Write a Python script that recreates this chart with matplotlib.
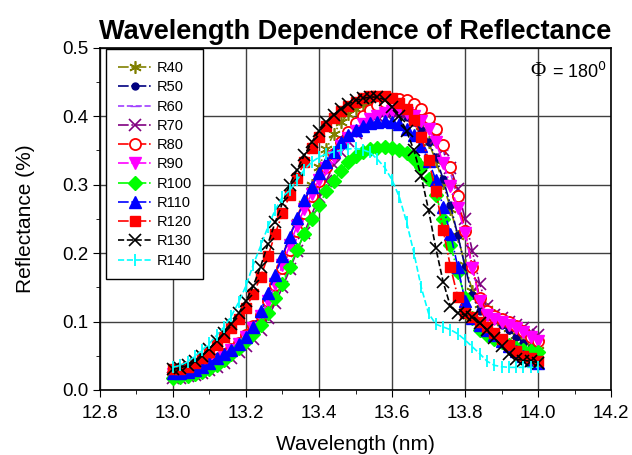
import numpy as np
import matplotlib.pyplot as plt
from matplotlib.ticker import MultipleLocator

plt.rcParams['font.family'] = ['Liberation Sans', 'DejaVu Sans']

# wavelength grid (nm), 0.02 nm steps
wl = np.arange(51) * 0.02 + 13.0

R40 = [0.020, 0.020, 0.022, 0.025, 0.029, 0.034, 0.040, 0.047, 0.055, 0.064,
       0.075, 0.088, 0.105, 0.127, 0.153, 0.185, 0.215, 0.245, 0.272, 0.300,
       0.326, 0.352, 0.374, 0.391, 0.403, 0.411, 0.416, 0.420, 0.423, 0.424,
       0.423, 0.420, 0.413, 0.402, 0.385, 0.362, 0.335, 0.302, 0.265, 0.225,
       0.182, 0.145, 0.125, 0.118, 0.110, 0.100, 0.090, 0.080, 0.071, 0.064,
       0.058]
R50 = [0.022, 0.023, 0.025, 0.028, 0.032, 0.037, 0.043, 0.050, 0.058, 0.067,
       0.078, 0.092, 0.110, 0.133, 0.158, 0.185, 0.213, 0.241, 0.266, 0.290,
       0.311, 0.330, 0.346, 0.360, 0.372, 0.382, 0.390, 0.397, 0.402, 0.405,
       0.406, 0.404, 0.399, 0.391, 0.380, 0.363, 0.340, 0.308, 0.270, 0.226,
       0.180, 0.138, 0.115, 0.108, 0.102, 0.095, 0.087, 0.078, 0.069, 0.062,
       0.056]
R60 = [0.022, 0.022, 0.024, 0.027, 0.031, 0.036, 0.042, 0.049, 0.057, 0.066,
       0.077, 0.090, 0.107, 0.128, 0.152, 0.178, 0.206, 0.234, 0.260, 0.285,
       0.307, 0.328, 0.346, 0.362, 0.376, 0.388, 0.398, 0.406, 0.412, 0.416,
       0.418, 0.418, 0.416, 0.411, 0.403, 0.391, 0.374, 0.350, 0.318, 0.278,
       0.230, 0.180, 0.135, 0.113, 0.106, 0.101, 0.096, 0.090, 0.084, 0.078,
       0.072]
R70 = [0.018, 0.018, 0.020, 0.022, 0.025, 0.029, 0.034, 0.040, 0.047, 0.055,
       0.064, 0.075, 0.088, 0.105, 0.127, 0.150, 0.176, 0.203, 0.230, 0.256,
       0.282, 0.306, 0.328, 0.348, 0.364, 0.376, 0.386, 0.394, 0.400, 0.404,
       0.406, 0.406, 0.404, 0.400, 0.393, 0.383, 0.368, 0.350, 0.325, 0.293,
       0.250, 0.203, 0.155, 0.122, 0.110, 0.105, 0.100, 0.095, 0.090, 0.085,
       0.080]
R80 = [0.025, 0.025, 0.027, 0.030, 0.034, 0.039, 0.045, 0.052, 0.060, 0.069,
       0.080, 0.093, 0.110, 0.130, 0.153, 0.178, 0.205, 0.232, 0.258, 0.283,
       0.305, 0.326, 0.345, 0.362, 0.377, 0.390, 0.400, 0.409, 0.416, 0.421,
       0.424, 0.425, 0.423, 0.418, 0.410, 0.398, 0.382, 0.358, 0.326, 0.283,
       0.232, 0.180, 0.135, 0.115, 0.108, 0.104, 0.100, 0.093, 0.086, 0.078,
       0.072]
R90 = [0.024, 0.024, 0.026, 0.028, 0.032, 0.037, 0.043, 0.050, 0.058, 0.067,
       0.078, 0.091, 0.108, 0.130, 0.155, 0.182, 0.212, 0.240, 0.265, 0.287,
       0.307, 0.325, 0.341, 0.356, 0.368, 0.379, 0.388, 0.396, 0.401, 0.405,
       0.407, 0.407, 0.405, 0.400, 0.393, 0.382, 0.362, 0.332, 0.298, 0.266,
       0.230, 0.178, 0.130, 0.110, 0.104, 0.100, 0.095, 0.090, 0.084, 0.078,
       0.072]
R100 = [0.018, 0.019, 0.021, 0.023, 0.026, 0.031, 0.037, 0.044, 0.052, 0.061,
        0.071, 0.082, 0.095, 0.112, 0.134, 0.155, 0.180, 0.205, 0.228, 0.250,
        0.270, 0.290, 0.305, 0.320, 0.333, 0.342, 0.348, 0.352, 0.354, 0.355,
        0.354, 0.350, 0.346, 0.337, 0.326, 0.308, 0.285, 0.250, 0.212, 0.172,
        0.135, 0.105, 0.087, 0.080, 0.075, 0.070, 0.066, 0.062, 0.059, 0.057,
        0.055]
R110 = [0.025, 0.025, 0.026, 0.029, 0.034, 0.040, 0.046, 0.052, 0.059, 0.067,
        0.077, 0.092, 0.115, 0.142, 0.168, 0.196, 0.224, 0.251, 0.277, 0.297,
        0.317, 0.333, 0.347, 0.362, 0.372, 0.380, 0.386, 0.390, 0.392, 0.393,
        0.392, 0.388, 0.382, 0.372, 0.356, 0.335, 0.307, 0.267, 0.228, 0.180,
        0.130, 0.105, 0.095, 0.088, 0.080, 0.072, 0.064, 0.057, 0.050, 0.044,
        0.040]
R120 = [0.030, 0.031, 0.034, 0.040, 0.047, 0.056, 0.066, 0.077, 0.090, 0.104,
        0.120, 0.140, 0.165, 0.195, 0.228, 0.258, 0.285, 0.310, 0.333, 0.353,
        0.370, 0.385, 0.397, 0.407, 0.415, 0.421, 0.426, 0.429, 0.430, 0.429,
        0.426, 0.420, 0.410, 0.395, 0.370, 0.336, 0.290, 0.234, 0.180, 0.136,
        0.112, 0.106, 0.100, 0.092, 0.083, 0.074, 0.065, 0.057, 0.050, 0.046,
        0.043]
R130 = [0.030, 0.032, 0.036, 0.042, 0.050, 0.060, 0.071, 0.083, 0.097, 0.112,
        0.130, 0.152, 0.180, 0.213, 0.245, 0.273, 0.300, 0.322, 0.343, 0.362,
        0.378, 0.391, 0.402, 0.411, 0.418, 0.423, 0.426, 0.428, 0.428, 0.424,
        0.414, 0.400, 0.378, 0.350, 0.312, 0.263, 0.207, 0.158, 0.122, 0.112,
        0.110, 0.106, 0.098, 0.088, 0.076, 0.064, 0.052, 0.045, 0.043, 0.042,
        0.040]
R140 = [0.033, 0.036, 0.041, 0.049, 0.058, 0.068, 0.080, 0.092, 0.108, 0.128,
        0.152, 0.183, 0.210, 0.238, 0.263, 0.282, 0.292, 0.307, 0.322, 0.333,
        0.340, 0.345, 0.348, 0.350, 0.352, 0.353, 0.351, 0.347, 0.337, 0.325,
        0.307, 0.282, 0.245, 0.200, 0.150, 0.112, 0.096, 0.092, 0.088, 0.082,
        0.073, 0.063, 0.053, 0.042, 0.036, 0.034, 0.033, 0.033, 0.033, 0.033,
        0.033]

series = [
    ('R40', R40, dict(color='#808000', marker=(6, 2, 0), ls='-.', ms=9, mew=1.2)),
    ('R50', R50, dict(color='#000080', marker='o', ls='-.', ms=5)),
    ('R60', R60, dict(color='#a040ff', marker='_', ls='--', ms=7)),
    ('R70', R70, dict(color='#800080', marker='x', ls='-.', ms=8, mew=1.2)),
    ('R80', R80, dict(color='red', marker='o', mfc='white', ls='-.', ms=8, mew=1.3)),
    ('R90', R90, dict(color='magenta', marker='v', ls='-.', ms=9)),
    ('R100', R100, dict(color='#00ff00', marker='D', ls='-.', ms=7)),
    ('R110', R110, dict(color='blue', marker='^', ls='-.', ms=9)),
    ('R120', R120, dict(color='red', marker='s', ls='-.', ms=7)),
    ('R130', R130, dict(color='black', marker='x', ls='--', ms=9, mew=1.2)),
    ('R140', R140, dict(color='cyan', marker='|', ls='--', ms=9, mew=1.3)),
]

fig = plt.figure(figsize=(6.32, 4.55), dpi=100)
ax = fig.add_axes([0.158, 0.143, 0.809, 0.752])

for name, vals, st in series:
    ax.plot(wl, vals, label=name, lw=1.2, **st)

ax.set_xlim(12.8, 14.2)
ax.set_ylim(0.0, 0.5)
ax.xaxis.set_major_locator(MultipleLocator(0.2))
ax.xaxis.set_minor_locator(MultipleLocator(0.1))
ax.yaxis.set_major_locator(MultipleLocator(0.1))
ax.yaxis.set_minor_locator(MultipleLocator(0.05))
ax.xaxis.set_major_formatter(plt.FormatStrFormatter('%.1f'))
ax.yaxis.set_major_formatter(plt.FormatStrFormatter('%.1f'))
ax.tick_params(which='both', direction='out', labelsize=13.5)
ax.tick_params(which='major', length=5, pad=3)
ax.tick_params(axis='x', which='major', pad=6)
ax.tick_params(which='minor', length=3)
ax.grid(True, which='major', color='0.25', lw=1)
for s in ax.spines.values():
    s.set_linewidth(1.2)

ax.set_xlabel('Wavelength (nm)', fontsize=15, labelpad=9)
ax.set_ylabel('Reflectance (%)', fontsize=15, labelpad=20)
ax.set_title('Wavelength Dependence of Reflectance', fontsize=19.5, fontweight='bold', pad=6)

ax.text(0.872, 0.93, '\u03a6', transform=ax.transAxes, ha='right', va='center',
        fontsize=15, family='Liberation Serif')
ax.text(0.992, 0.93, '= 180$^0$', transform=ax.transAxes, ha='right', va='center',
        fontsize=13)

leg = ax.legend(loc='upper left', bbox_to_anchor=(0.012, 0.995), fontsize=10.5,
                handlelength=2.4, labelspacing=0.36, borderpad=0.8, handletextpad=0.25,
                borderaxespad=0, fancybox=False, framealpha=1, edgecolor='black')
leg.get_frame().set_linewidth(1.0)

fig.savefig('out.png', dpi=100)
